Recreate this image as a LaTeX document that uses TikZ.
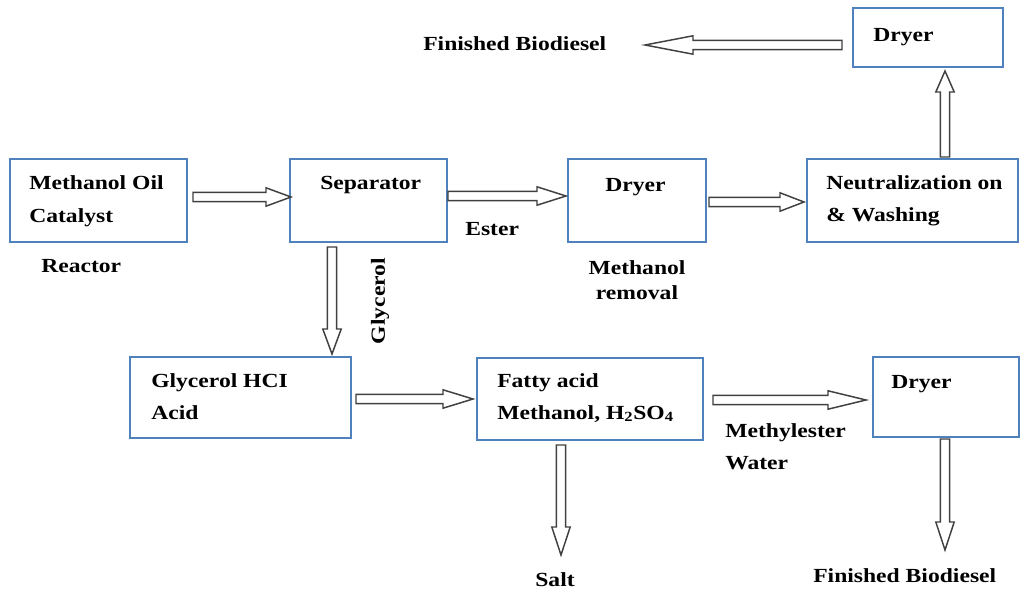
\documentclass[tikz,border=0pt]{standalone}
\usepackage{fontspec}
\setmainfont{Liberation Serif}[FakeStretch=1.18]
\usetikzlibrary{calc,fit}

\definecolor{boxblue}{HTML}{4F81BD}
\definecolor{arrowgray}{HTML}{404040}

\tikzset{
  procbox/.style={draw=boxblue, line width=2pt, inner sep=0pt, outer sep=0pt},
  blockarrow/.style={draw=arrowgray, line width=1.1pt, fill=white, line join=miter},
  lbl/.style={font=\fontsize{15}{18}\selectfont\bfseries, inner sep=0pt, anchor=base west},
}

% hollow block arrow from #2 to #3, head length #1 (px)
\newcommand\flowarrow[3][26]{%
  \draw[blockarrow] let \p1=(#2), \p2=(#3),
      \n1={atan2(\y2-\y1,\x2-\x1)}, \n2={veclen(\x2-\x1,\y2-\y1)}, \n3={#1*0.75} in
    [shift={(\p1)}, rotate=\n1]
    (0pt,3.5pt) -- ({(\n2-\n3)*1pt},3.5pt) -- ({(\n2-\n3)*1pt},6.9pt)
    -- ({\n2*1pt},0pt) -- ({(\n2-\n3)*1pt},-6.9pt) -- ({(\n2-\n3)*1pt},-3.5pt)
    -- (0pt,-3.5pt) -- cycle;
}

\begin{document}
\begin{tikzpicture}[x=0.75pt,y=-0.75pt]
\useasboundingbox (0,0) rectangle (1020,591);

% process boxes
\node[procbox, fit={(10,159) (187,242)}]   (reactor)   {};
\node[procbox, fit={(290,159) (447,242)}]  (separator) {};
\node[procbox, fit={(568,159) (706,242)}]  (dryerA)    {};
\node[procbox, fit={(807,159) (1018,242)}] (neutral)   {};
\node[procbox, fit={(853,8) (1003,67)}]    (dryerTop)  {};
\node[procbox, fit={(130,357) (351,438)}]  (glyc)      {};
\node[procbox, fit={(477,358) (703,440)}]  (fatty)     {};
\node[procbox, fit={(873,357) (1019,437)}] (dryerB)    {};

% box texts
\node[lbl] (t1) at (29,190) {Methanol Oil};
\node[lbl] (t2) at (29,223) {Catalyst};
\node[lbl] (t3) at (320,190) {Separator};
\node[lbl] (t4) at (605,192) {Dryer};
\node[lbl] (t5) at (826,190) {Neutralization on};
\node[lbl] (t6) at (826,222) {\& Washing};
\node[lbl] (t7) at (873,42) {Dryer};
\node[lbl] (t8) at (151,387) {Glycerol HCI};
\node[lbl] (t9) at (151,419) {Acid};
\node[lbl] (t10) at (497,387) {Fatty acid};
\node[lbl] (t11) at (497,419) {Methanol, H\textsubscript{2}SO\textsubscript{4}};
\node[lbl] (t12) at (891,388) {Dryer};

% free labels
\node[lbl] (reactorlbl) at (41,273) {Reactor};
\node[lbl] (esterlbl) at (465,236) {Ester};
\node[lbl, anchor=base] (mr1) at (637,275) {Methanol};
\node[lbl, anchor=base] (mr2) at (637,300) {removal};
\node[lbl] (finTop) at (423,51) {Finished Biodiesel};
\node[lbl, anchor=center, rotate=90] (glyclbl) at (380,301) {Glycerol};
\node[lbl] (me1) at (725,437) {Methylester};
\node[lbl] (me2) at (725,469) {Water};
\node[lbl, anchor=base] (salt) at (555,586) {Salt};
\node[lbl] (finBot) at (813,582) {Finished Biodiesel};

% free arrow ends
\coordinate (finTopIn) at (645,45);
\coordinate (saltIn) at (561,555);
\coordinate (finBotIn) at (945,550);

% connectors
\flowarrow[25]{$(reactor.east)+(6,-3.5)$}{$(separator.west)+(1,-3.5)$}
\flowarrow[29]{$(separator.east)+(1,-4.5)$}{$(dryerA.west)+(-2,-4.5)$}
\flowarrow[24]{$(dryerA.east)+(3,1.5)$}{$(neutral.west)+(-3,1.5)$}
\flowarrow[21]{$(neutral.north west)+(138,-2)$}{$(dryerTop.south west)+(92,4)$}
\flowarrow[48]{$(dryerTop.west)+(-11,7.5)$}{finTopIn}
\flowarrow[25]{$(separator.south west)+(42,5)$}{$(glyc.north west)+(202,-3)$}
\flowarrow[30]{$(glyc.east)+(5,1.5)$}{$(fatty.west)+(-4,0)$}
\flowarrow[38]{$(fatty.east)+(10,1)$}{$(dryerB.west)+(-7,3)$}
\flowarrow[28]{$(fatty.south west)+(84,5)$}{saltIn}
\flowarrow[28]{$(dryerB.south west)+(72,2)$}{finBotIn}
\end{tikzpicture}
\end{document}
